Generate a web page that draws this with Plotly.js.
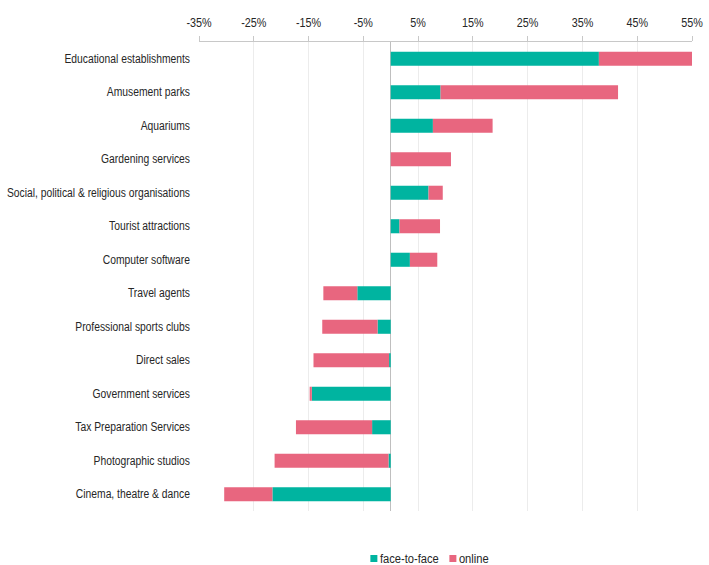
<!DOCTYPE html>
<html>
<head>
<meta charset="utf-8">
<script src="https://cdn.plot.ly/plotly-3.0.1.min.js"></script>
<style>html,body{margin:0;padding:0;background:#fff;}#chart{width:709px;height:565px;}</style>
</head>
<body>
<div id="chart"></div>
<script>
const categories = [
  "Educational establishments",
  "Amusement parks",
  "Aquariums",
  "Gardening services",
  "Social, political & religious organisations",
  "Tourist attractions",
  "Computer software",
  "Travel agents",
  "Professional sports clubs",
  "Direct sales",
  "Government services",
  "Tax Preparation Services",
  "Photographic studios",
  "Cinema, theatre & dance"
];
const faceToFace = [38.0, 9.1, 7.7, 0.0, 6.9, 1.6, 3.5, -6.1, -2.4, -0.3, -14.4, -3.4, -0.4, -21.6];
const online = [17.3, 32.4, 10.9, 11.0, 2.6, 7.4, 5.0, -6.2, -10.1, -13.8, -0.4, -13.9, -20.8, -8.8];
const tickValues = [-35, -25, -15, -5, 5, 15, 25, 35, 45, 55];
const tickLabels = ["-35%", "-25%", "-15%", "-5%", "5%", "15%", "25%", "35%", "45%", "55%"];

const fontFam = "'Liberation Sans', Arial, sans-serif";
const traces = [
  {type: 'bar', orientation: 'h', name: 'face-to-face', y: categories, x: faceToFace,
   marker: {color: '#00B4A0'}, hoverinfo: 'x+y'},
  {type: 'bar', orientation: 'h', name: 'online', y: categories, x: online,
   marker: {color: '#E8667F'}, hoverinfo: 'x+y'}
];
const layout = {
  width: 709, height: 565,
  margin: {l: 199, r: 17, t: 42, b: 54},
  barmode: 'relative',
  bargap: 0.58,
  paper_bgcolor: '#fff', plot_bgcolor: '#fff',
  font: {family: fontFam, size: 12, color: '#262626'},
  xaxis: {
    side: 'top', range: [-35, 55], tickvals: tickValues, ticktext: tickLabels,
    showgrid: true, gridcolor: '#ececec', gridwidth: 1,
    showline: true, linecolor: '#c8c8c8', linewidth: 1,
    ticks: 'outside', ticklen: 5, tickcolor: '#c8c8c8',
    ticklabelstandoff: 4,
    zeroline: true, zerolinecolor: '#bfbfbf', zerolinewidth: 1,
    tickfont: {family: fontFam, size: 12, color: '#262626'},
    fixedrange: true
  },
  yaxis: {
    autorange: 'reversed', showgrid: false, showline: false, ticks: '',
    ticklabelstandoff: 8,
    tickfont: {family: fontFam, size: 12, color: '#262626'},
    fixedrange: true
  },
  showlegend: true,
  legend: {orientation: 'h', x: 0.446, xanchor: 'center', yref: 'container', y: 0, yanchor: 'bottom',
           font: {family: fontFam, size: 12, color: '#262626'},
           itemwidth: 30, entrywidth: 34, tracegroupgap: 0, traceorder: 'normal'}
};

function squish(gd) {
  const apply = (sel, factor, maxW) => {
    gd.querySelectorAll(sel).forEach(t => {
      const w = t.getComputedTextLength();
      if (!w) return;
      let target = w * factor;
      if (maxW && target > maxW) target = maxW;
      t.setAttribute('textLength', target.toFixed(1));
      t.setAttribute('lengthAdjust', 'spacingAndGlyphs');
    });
  };
  apply('.ytick text', 0.86, 183);
  apply('.xtick text', 0.9);
  apply('.legendtext', 0.93);
  gd.querySelectorAll('.legend .legendpoints path').forEach(p => {
    p.setAttribute('d', 'M3.5,3.5H-3.5V-3.5H3.5Z');
    p.setAttribute('transform', 'translate(34,0)');
  });
  const lg = gd.querySelector('g.legend');
  if (lg) {
    const tr = lg.getAttribute('transform') || '';
    const m = tr.match(/translate\(\s*([-\d.]+)[ ,]+([-\d.]+)\s*\)/);
    if (m) lg.setAttribute('transform', 'translate(' + m[1] + ',' + (parseFloat(m[2]) + 8) + ')');
  }
}

Plotly.newPlot('chart', traces, layout, {displayModeBar: false, staticPlot: true})
  .then(gd => squish(gd));
</script>
</body>
</html>
